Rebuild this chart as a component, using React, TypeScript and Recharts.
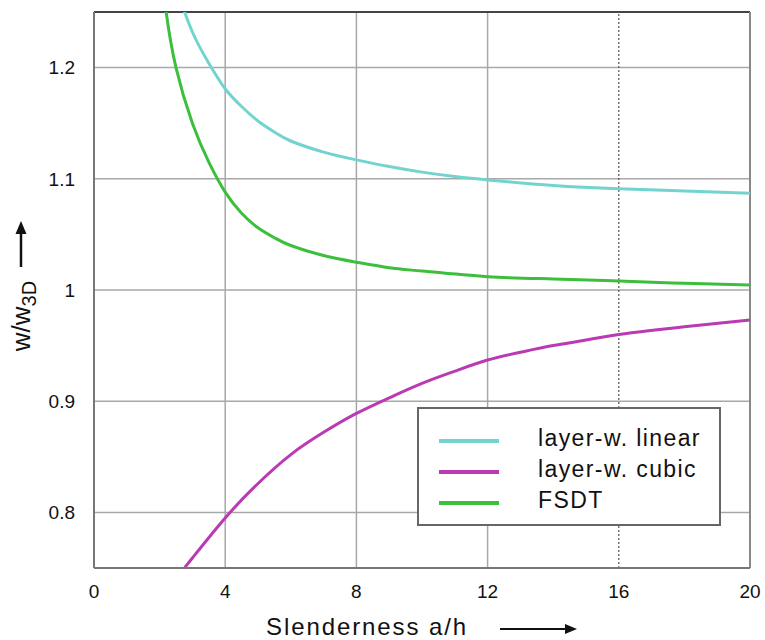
import React from 'react';
import {
  LineChart,
  Line,
  XAxis,
  YAxis,
  CartesianGrid,
  ReferenceLine,
} from 'recharts';

// readings: [a/h, w/w3D]
const linearCurve = [
  [2.5, 1.272], [3, 1.232], [3.5, 1.204], [4, 1.181], [4.5, 1.165], [5, 1.152],
  [5.5, 1.142], [6, 1.134], [7, 1.124], [8, 1.117], [9, 1.111], [10, 1.106],
  [11, 1.102], [12, 1.099], [14, 1.094], [16, 1.091], [18, 1.089], [20, 1.087],
];
const cubicCurve = [
  [2.5, 0.739], [2.76, 0.75], [3, 0.759], [4, 0.795], [5, 0.826], [6, 0.852],
  [7, 0.872], [8, 0.889], [9, 0.903], [10, 0.916], [11, 0.927], [12, 0.937],
  [13, 0.944], [14, 0.95], [15, 0.955], [16, 0.96], [18, 0.967], [20, 0.973],
];
const fsdtCurve = [
  [2, 1.3], [2.2, 1.25], [2.5, 1.2], [3, 1.15], [3.5, 1.115], [4, 1.088],
  [4.5, 1.069], [5, 1.056], [5.5, 1.047], [6, 1.04], [7, 1.031], [8, 1.025],
  [9, 1.02], [10, 1.017], [12, 1.012], [14, 1.01], [16, 1.008], [18, 1.006],
  [20, 1.0045],
];

const xTicks = [0, 4, 8, 12, 16, 20];
const yTicks = [0.8, 0.9, 1, 1.1, 1.2];
const solidGridX = [4, 8, 12];
const dottedGridX = 16;

const SERIES = [
  { name: 'layer-w. linear', points: linearCurve, color: '#72d4cf' },
  { name: 'layer-w. cubic', points: cubicCurve, color: '#b93ab3' },
  { name: 'FSDT', points: fsdtCurve, color: '#3cbf3c' },
];

const FONT = '"Liberation Sans", Arial, sans-serif';

const toRows = (pts: number[][]) => pts.map(([s, w]) => ({ s, w }));

function LegendBox() {
  return (
    <div
      style={{
        position: 'absolute',
        left: 417,
        top: 407,
        width: 304,
        height: 119,
        border: '2px solid #666',
        background: '#fff',
        boxSizing: 'border-box',
        paddingTop: 16,
        fontFamily: FONT,
      }}
    >
      {SERIES.map((s) => (
        <div key={s.name} style={{ display: 'flex', alignItems: 'center', height: 31 }}>
          <div style={{ width: 60, height: 4, background: s.color, marginLeft: 20 }} />
          <span
            style={{ marginLeft: 39, fontSize: 23, color: '#111', letterSpacing: 1.4, marginTop: -4 }}
          >
            {s.name}
          </span>
        </div>
      ))}
    </div>
  );
}

export default function App() {
  return (
    <div style={{ position: 'absolute', left: 0, top: 0, width: 765, height: 640, background: '#fff' }}>
      <LineChart width={765} height={640} margin={{ top: 12, right: 15, left: 0, bottom: 0 }}>
        <CartesianGrid
          horizontalValues={yTicks}
          verticalValues={solidGridX}
          stroke="#a8a8a8"
          strokeWidth={1.5}
        />
        <ReferenceLine x={dottedGridX} stroke="#555" strokeDasharray="2 2" strokeWidth={1.2} />
        <ReferenceLine y={1.25} stroke="#444" strokeWidth={2} />
        <ReferenceLine x={20} stroke="#888" strokeWidth={2} />
        <XAxis
          type="number"
          dataKey="s"
          domain={[0, 20]}
          ticks={xTicks}
          height={72}
          axisLine={{ stroke: '#777', strokeWidth: 2 }}
          tickLine={false}
          tickSize={8}
          tickMargin={9}
          tick={{ fill: '#111', fontSize: 19, fontFamily: FONT }}
          allowDataOverflow
        />
        <YAxis
          type="number"
          domain={[0.75, 1.25]}
          ticks={yTicks}
          width={94}
          axisLine={{ stroke: '#777', strokeWidth: 2 }}
          tickLine={false}
          tickSize={10}
          tickMargin={9}
          tick={{ fill: '#111', fontSize: 19, fontFamily: FONT }}
          allowDataOverflow
        />
        {SERIES.map((s) => (
          <Line
            key={s.name}
            name={s.name}
            data={toRows(s.points)}
            dataKey="w"
            type="natural"
            stroke={s.color}
            strokeWidth={3}
            dot={false}
            isAnimationActive={false}
          />
        ))}
        {/* axis titles with arrows */}
        <g fontFamily={FONT} fill="#111">
          <text x={266} y={635} fontSize={24} letterSpacing={1.9}>
            Slenderness a/h
          </text>
          <line x1={500} y1={629} x2={568} y2={629} stroke="#111" strokeWidth={2} />
          <polygon points="577,629 565,624 565,634" fill="#111" />
          <text transform="translate(30,316) rotate(-90)" textAnchor="middle" fontSize={26}>
            w/w<tspan dy={6} fontSize={20}>3D</tspan>
          </text>
          <line x1={21} y1={232} x2={21} y2={267} stroke="#111" strokeWidth={2.5} />
          <polygon points="21,221 15.5,234 26.5,234" fill="#111" />
        </g>
      </LineChart>
      <LegendBox />
    </div>
  );
}
